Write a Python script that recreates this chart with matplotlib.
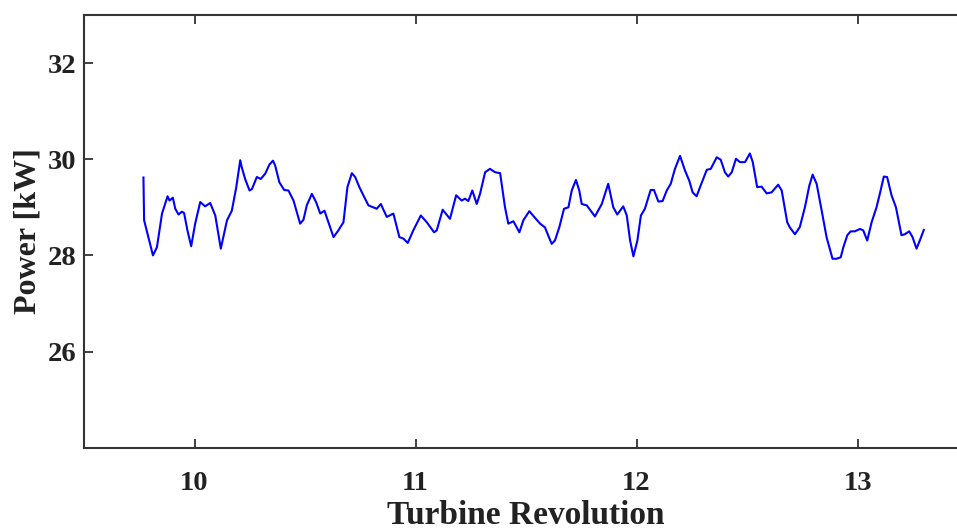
import numpy as np
import matplotlib
matplotlib.use('Agg')
import matplotlib.pyplot as plt

# power trace (revolution, kW)
revolution = [
    9.769, 9.772, 9.812, 9.830, 9.853, 9.878, 9.887, 9.902, 9.913, 9.928,
    9.943, 9.953, 9.968, 9.985, 10.003, 10.026, 10.048, 10.071, 10.094, 10.119,
    10.147, 10.169, 10.189, 10.199, 10.207, 10.214, 10.229, 10.249, 10.260, 10.282,
    10.300, 10.320, 10.339, 10.355, 10.365, 10.384, 10.406, 10.425, 10.448, 10.478,
    10.493, 10.508, 10.531, 10.550, 10.569, 10.588, 10.603, 10.629, 10.651, 10.674,
    10.692, 10.712, 10.727, 10.746, 10.764, 10.787, 10.825, 10.843, 10.870, 10.900,
    10.927, 10.945, 10.965, 10.990, 11.024, 11.051, 11.084, 11.096, 11.123, 11.156,
    11.184, 11.209, 11.224, 11.239, 11.257, 11.277, 11.292, 11.315, 11.337, 11.360,
    11.383, 11.405, 11.420, 11.443, 11.470, 11.488, 11.515, 11.541, 11.564, 11.586,
    11.616, 11.631, 11.651, 11.672, 11.692, 11.707, 11.726, 11.741, 11.752, 11.775,
    11.812, 11.843, 11.872, 11.895, 11.913, 11.940, 11.956, 11.971, 11.986, 12.004,
    12.020, 12.038, 12.064, 12.079, 12.099, 12.118, 12.137, 12.155, 12.174, 12.197,
    12.219, 12.239, 12.254, 12.272, 12.290, 12.318, 12.336, 12.363, 12.381, 12.400,
    12.415, 12.431, 12.450, 12.468, 12.491, 12.513, 12.526, 12.546, 12.566, 12.589,
    12.611, 12.641, 12.657, 12.682, 12.694, 12.717, 12.739, 12.762, 12.782, 12.797,
    12.815, 12.838, 12.860, 12.887, 12.905, 12.924, 12.936, 12.954, 12.969, 12.988,
    13.011, 13.026, 13.044, 13.064, 13.086, 13.101, 13.119, 13.134, 13.154, 13.174,
    13.199, 13.214, 13.234, 13.249, 13.267, 13.282, 13.300,
]
power = [
    29.62, 28.73, 28.00, 28.17, 28.87, 29.23, 29.14, 29.20, 28.97, 28.85,
    28.91, 28.88, 28.52, 28.19, 28.66, 29.11, 29.02, 29.09, 28.83, 28.14,
    28.73, 28.93, 29.42, 29.73, 29.98, 29.83, 29.59, 29.35, 29.38, 29.63,
    29.59, 29.70, 29.89, 29.97, 29.87, 29.52, 29.36, 29.35, 29.14, 28.66,
    28.74, 29.04, 29.28, 29.11, 28.87, 28.93, 28.73, 28.38, 28.52, 28.69,
    29.42, 29.71, 29.63, 29.42, 29.25, 29.04, 28.97, 29.07, 28.80, 28.87,
    28.38, 28.35, 28.26, 28.52, 28.83, 28.69, 28.48, 28.52, 28.95, 28.76,
    29.25, 29.14, 29.18, 29.13, 29.35, 29.07, 29.28, 29.73, 29.80, 29.73,
    29.71, 29.00, 28.66, 28.71, 28.48, 28.73, 28.92, 28.78, 28.66, 28.58,
    28.24, 28.31, 28.59, 28.97, 29.00, 29.35, 29.57, 29.35, 29.07, 29.04,
    28.81, 29.07, 29.49, 29.00, 28.85, 29.02, 28.83, 28.31, 27.98, 28.31,
    28.83, 28.97, 29.36, 29.36, 29.12, 29.13, 29.35, 29.49, 29.80, 30.07,
    29.77, 29.55, 29.31, 29.23, 29.45, 29.78, 29.80, 30.04, 29.99, 29.73,
    29.64, 29.73, 30.01, 29.94, 29.94, 30.12, 29.94, 29.42, 29.43, 29.29,
    29.31, 29.47, 29.35, 28.69, 28.58, 28.44, 28.59, 29.00, 29.45, 29.68,
    29.49, 28.93, 28.38, 27.93, 27.93, 27.96, 28.17, 28.42, 28.50, 28.50,
    28.55, 28.52, 28.31, 28.69, 29.00, 29.28, 29.64, 29.63, 29.25, 29.00,
    28.42, 28.44, 28.50, 28.38, 28.14, 28.31, 28.53,
]

x_ticks = [10, 11, 12, 13]
y_ticks = [26, 28, 30, 32]

plt.rcParams['font.family'] = ['Liberation Serif', 'DejaVu Serif']
plt.rcParams['font.weight'] = 'bold'

fig = plt.figure(figsize=(9.57, 5.31), dpi=100)
# axes run past the right edge, as in the cropped original
ax = fig.add_axes([84/957, (531-447.7)/531, (968-84)/957, 432.7/531])

ax.plot(revolution, power, color='#0000ff', lw=1.5)

ax.set_xlim(9.5, 13.5)
ax.set_ylim(24, 33)
ax.set_xticks(x_ticks)
ax.set_yticks(y_ticks)

for s in ax.spines.values():
    s.set_linewidth(1.5)
    s.set_color('#333333')
ax.tick_params(direction='in', length=6.5, width=1.3, color='#333333',
               top=True, right=True, labelsize=20.5, labelcolor='#222222')
ax.tick_params(axis='x', pad=17)
ax.tick_params(axis='y', pad=5.5)

ax.set_xlabel('Turbine Revolution', fontsize=24, fontweight='bold', color='#222222')
ax.set_ylabel('Power [kW]', fontsize=23, fontweight='bold', color='#222222')
ax.xaxis.label.set_va('bottom')
ax.xaxis.set_label_coords(0.5, -0.1925)
ax.yaxis.set_label_coords(-0.047, 0.5)

fig.savefig('out.png', dpi=100)
